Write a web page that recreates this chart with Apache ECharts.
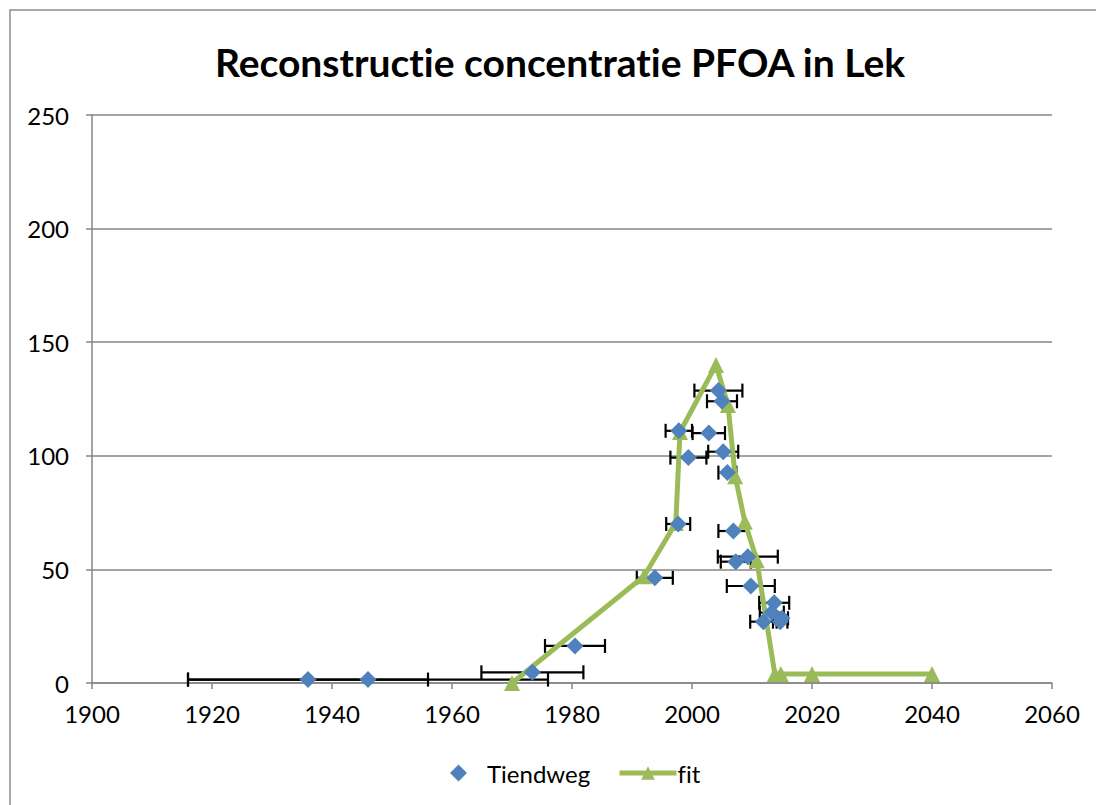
<!DOCTYPE html>
<html>
<head>
<meta charset="utf-8">
<script src="https://cdn.jsdelivr.net/npm/echarts@6/dist/echarts.min.js"></script>
<style>
  html, body { margin: 0; padding: 0; background: #fff; }
  #chart { width: 1096px; height: 805px; }
  #chart text { font-variant-ligatures: none; }
</style>
</head>
<body>
<div id="chart"></div>
<script>
// Tiendweg metingen: jaar, concentratie, halve breedte foutbalk (jaren)
const tiendwegJaar = [1936, 1946, 1973.4, 1980.5, 1993.8, 1997.7, 1997.8, 1999.4, 2002.8, 2004.4, 2005.0, 2005.2, 2005.9, 2006.9, 2007.3, 2009.3, 2009.8, 2011.9, 2013.3, 2013.7, 2014.7, 2015.0]
const tiendwegWaarde = [1.5, 1.5, 4.7, 16.3, 46.3, 70, 111, 99.2, 110, 128.7, 124, 101.8, 92.6, 66.9, 53.4, 55.6, 42.7, 27, 31, 35.3, 27, 28.5]
const tiendwegFout = [20, 30, 8.5, 5, 3, 2, 2.2, 3, 2.7, 4, 2.5, 2.5, 1.5, 2.5, 2.5, 5, 4, 2.2, 2, 2.5, 1.2, 1]

// fit
const fitJaar = [1970, 1992, 1997.3, 1998, 2004, 2006, 2007.2, 2008.8, 2010.8, 2013.8, 2014.8, 2020, 2040]
const fitWaarde = [0, 47, 70.4, 110.5, 140, 122.4, 91, 71, 54, 4, 4, 4, 4]

const xMin = 1900, xMax = 2060, xStap = 20
const yMin = 0, yMax = 250, yStap = 50

const font = 'Lato, "Open Sans", sans-serif'
const blauw = '#4F81BD'
const groen = '#9BBB59'

const chart = echarts.init(document.getElementById('chart'), null, { renderer: 'svg' })

chart.setOption({
    animation: false,
    backgroundColor: '#fff',
    title: {
        text: 'Reconstructie concentratie PFOA in Lek',
        left: 555,
        top: 37,
        textAlign: 'center',
        textStyle: { fontFamily: font, fontWeight: 'bold', fontSize: 39, color: '#000' },
    },
    graphic: [{
        type: 'rect',
        shape: { x: 10, y: 10, width: 1200, height: 900 },
        style: { fill: 'none', stroke: '#8c8c8c', lineWidth: 1.5 },
        silent: true,
    }],
    legend: [
        {
            left: 445,
            top: 756,
            itemWidth: 17,
            itemHeight: 17,
            textStyle: { fontFamily: font, fontSize: 24, color: '#000', padding: [0, 0, 0, 15] },
            data: [{ name: 'Tiendweg', icon: 'diamond' }],
        },
        {
            left: 612,
            top: 756,
            itemWidth: 57,
            itemHeight: 17,
            lineStyle: { width: 5 },
            textStyle: { fontFamily: font, fontSize: 24, color: '#000', padding: [0, 0, 0, -4] },
            data: ['fit'],
        },
    ],
    grid: { left: 92, right: 44, top: 115, bottom: 122 },
    xAxis: {
        type: 'value',
        min: xMin,
        max: xMax,
        interval: xStap,
        axisLine: { lineStyle: { color: '#868686', width: 1.5 } },
        axisTick: { show: true, length: 6, lineStyle: { color: '#868686', width: 1.5 } },
        axisLabel: { fontFamily: font, fontSize: 24, color: '#000', margin: 18, formatter: (v) => String(v) },
        splitLine: { show: false },
    },
    yAxis: {
        type: 'value',
        min: yMin,
        max: yMax,
        interval: yStap,
        axisLine: { show: true, lineStyle: { color: '#868686', width: 1.5 } },
        axisTick: { show: true, length: 6, lineStyle: { color: '#868686', width: 1.5 } },
        axisLabel: { fontFamily: font, fontSize: 24, color: '#000', margin: 23 },
        splitLine: { lineStyle: { color: '#868686', width: 1.5 } },
    },
    series: [
        {
            name: 'foutbalk',
            type: 'custom',
            z: 1,
            silent: true,
            data: tiendwegJaar.map((j, i) => [j, tiendwegWaarde[i], tiendwegFout[i]]),
            renderItem: function (params, api) {
                const y = api.value(1)
                const a = api.coord([api.value(0) - api.value(2), y])
                const b = api.coord([api.value(0) + api.value(2), y])
                const cap = 7
                const st = { stroke: '#000', lineWidth: 2.2 }
                return {
                    type: 'group',
                    children: [
                        { type: 'line', shape: { x1: a[0], y1: a[1], x2: b[0], y2: b[1] }, style: st },
                        { type: 'line', shape: { x1: a[0], y1: a[1] - cap, x2: a[0], y2: a[1] + cap }, style: st },
                        { type: 'line', shape: { x1: b[0], y1: b[1] - cap, x2: b[0], y2: b[1] + cap }, style: st },
                    ],
                }
            },
        },
        {
            name: 'fit',
            type: 'line',
            z: 2,
            data: fitJaar.map((j, i) => [j, fitWaarde[i]]),
            symbol: 'triangle',
            symbolSize: 16,
            lineStyle: { color: groen, width: 5 },
            itemStyle: { color: groen, opacity: 1 },
        },
        {
            name: 'Tiendweg',
            type: 'scatter',
            z: 3,
            data: tiendwegJaar.map((j, i) => [j, tiendwegWaarde[i]]),
            symbol: 'diamond',
            symbolSize: 17,
            itemStyle: { color: blauw, opacity: 1 },
        },
    ],
})
</script>
</body>
</html>
